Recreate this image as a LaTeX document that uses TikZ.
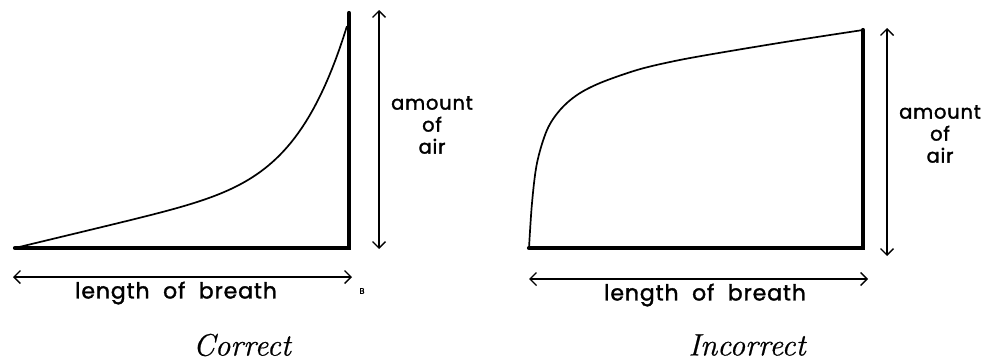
\documentclass[tikz,border=0pt]{standalone}
\usepackage{fontspec}
\newfontfamily\hand{Poppins}[FakeBold=1.6, LetterSpace=4]
\newfontfamily\capfont{Latin Modern Roman}[FakeBold=0.6]
\usetikzlibrary{arrows.meta}
\tikzset{
  heavy/.style={line width=4.2pt, line cap=round, line join=miter},
  curveline/.style={line width=1.7pt, line cap=round},
  dimarrow/.style={line width=1.4pt, {Straight Barb[length=6.5pt,width=13pt,line width=1.4pt]}-{Straight Barb[length=6.5pt,width=13pt,line width=1.4pt]}},
  handlbl/.style={font=\hand\fontsize{22}{24}\selectfont, inner sep=0pt, align=center},
  airlbl/.style={font=\hand\fontsize{19.5}{22}\selectfont, inner sep=0pt, align=center},
  caption/.style={font=\capfont\itshape\fontsize{31}{33}\selectfont, inner sep=0pt}
}
\begin{document}
\begin{tikzpicture}[x=1pt,y=-1pt]
\useasboundingbox (0,0) rectangle (984,362);
% ---------- Correct ----------
\coordinate (cL) at (15,248);
\coordinate (cC) at (349,248);
\coordinate (cT) at (349,13);
\draw[heavy] (cL) -- (cC) -- (cT);
\draw[curveline] plot[domain=0:1, samples=90, variable=\t] ({15+332*\t},{248-80*\t-142*\t^7});
\coordinate (cvT) at (379,10);
\coordinate (cvB) at (379,249);
\draw[dimarrow] (cvT) -- (cvB);
\coordinate (chL) at (13,277);
\coordinate (chR) at (352,277);
\draw[dimarrow] (chL) -- (chR);
\node[handlbl] (cLen) at (176,293) {length\ \ of\ \ breath};
\node[airlbl] (cAir) at (432,125) {amount\\of\\air};
\node[inner sep=0pt, font=\hand\fontsize{8}{8}\selectfont] (cB) at (362,291) {B};
\node[caption] (cCap) at (242,345) {Correct};
% ---------- Incorrect ----------
\coordinate (iL) at (529,248);
\coordinate (iC) at (863,248);
\coordinate (iT) at (863,30);
\draw[heavy] (iL) -- (iC) -- (iT);
\draw[curveline] plot[smooth, tension=0.55] coordinates {(529,248) (532,203) (537,163) (547,130) (560,110) (577,95) (600,83) (637,70) (670,62) (707,55) (785,42) (863,30)};
\coordinate (ivT) at (887,28);
\coordinate (ivB) at (887,256);
\draw[dimarrow] (ivT) -- (ivB);
\coordinate (ihL) at (529,279);
\coordinate (ihR) at (868,279);
\draw[dimarrow] (ihL) -- (ihR);
\node[handlbl] (iLen) at (705,295) {length\ \ of\ \ breath};
\node[airlbl] (iAir) at (940,134) {amount\\of\\air};
\node[caption] (iCap) at (747,345) {Incorrect};
\end{tikzpicture}
\end{document}
